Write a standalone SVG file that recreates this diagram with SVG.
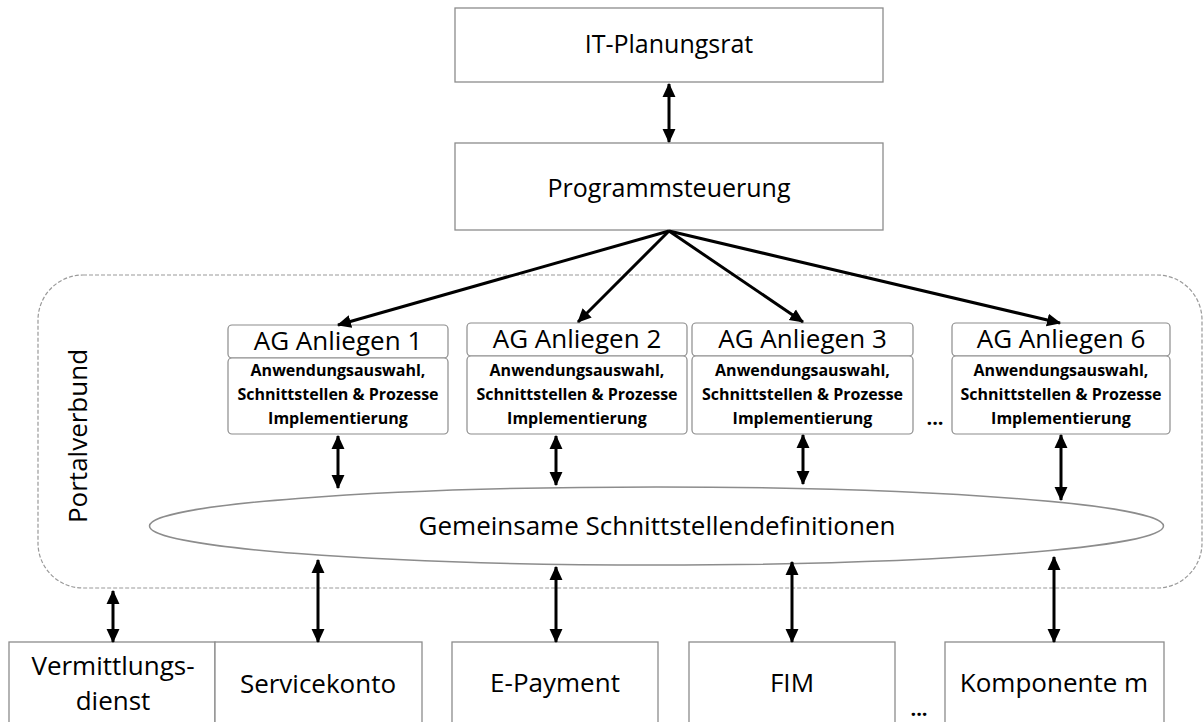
<svg xmlns="http://www.w3.org/2000/svg" width="1204" height="722" viewBox="0 0 1204 722">
<style>
.box{fill:#fff;stroke:#8c8c8c;stroke-width:1.3}
.agbox{fill:#fff;stroke:#8c8c8c;stroke-width:1.2}
.t{font-family:"Open Sans","Liberation Sans",sans-serif;font-size:25px;fill:#000;text-anchor:middle}
.t26{font-family:"Open Sans","Liberation Sans",sans-serif;font-size:26px;fill:#000;text-anchor:middle}
.b{font-family:"Open Sans","Liberation Sans",sans-serif;font-size:16px;font-weight:bold;fill:#000;text-anchor:middle}
.arr{stroke:#000;stroke-width:3;fill:none;marker-end:url(#ah);marker-start:url(#ah)}
.one{stroke:#000;stroke-width:3;fill:none;marker-end:url(#ah)}
</style>
<defs>
<marker id="ah" markerUnits="userSpaceOnUse" markerWidth="14" markerHeight="14" refX="12" refY="6" orient="auto-start-reverse" viewBox="0 0 13 12">
<path d="M0,0 L13,6 L0,12 z" fill="#000"/>
</marker>
</defs>
<rect width="1204" height="722" fill="#fff"/>

<g id="portalverbund">
<rect x="38" y="275" width="1164" height="313" rx="45" ry="45" fill="none" stroke="#999" stroke-width="1.2" stroke-dasharray="4,2"/>
<text class="t26" x="87" y="436" transform="rotate(-90 87 436)">Portalverbund</text>
</g>

<g id="it-planungsrat">
<rect class="box" x="455" y="8" width="428" height="74"/>
<text class="t" x="669" y="53">IT-Planungsrat</text>
</g>

<g id="programmsteuerung">
<rect class="box" x="455" y="143" width="428" height="87"/>
<text class="t" x="669" y="197">Programmsteuerung</text>
</g>

<g id="ag1">
<rect class="agbox" x="228" y="325" width="220" height="33" rx="4"/>
<rect class="agbox" x="228" y="358" width="220" height="76" rx="4"/>
<text class="t26" x="338" y="350">AG Anliegen 1</text>
<text class="b" x="338" y="376">Anwendungsauswahl,</text>
<text class="b" x="338" y="400">Schnittstellen &amp; Prozesse</text>
<text class="b" x="338" y="424">Implementierung</text>
</g>

<g id="ag2">
<rect class="agbox" x="467" y="323" width="220" height="33" rx="4"/>
<rect class="agbox" x="467" y="356" width="220" height="78" rx="4"/>
<text class="t26" x="577" y="348">AG Anliegen 2</text>
<text class="b" x="577" y="376">Anwendungsauswahl,</text>
<text class="b" x="577" y="400">Schnittstellen &amp; Prozesse</text>
<text class="b" x="577" y="424">Implementierung</text>
</g>

<g id="ag3">
<rect class="agbox" x="692" y="323" width="221" height="33" rx="4"/>
<rect class="agbox" x="692" y="356" width="221" height="78" rx="4"/>
<text class="t26" x="802.5" y="348">AG Anliegen 3</text>
<text class="b" x="802.5" y="376">Anwendungsauswahl,</text>
<text class="b" x="802.5" y="400">Schnittstellen &amp; Prozesse</text>
<text class="b" x="802.5" y="424">Implementierung</text>
</g>

<g id="dots-ag">
<text class="t26" x="935" y="425" style="font-size:20px;font-weight:bold">...</text>
</g>

<g id="ag6">
<rect class="agbox" x="952" y="323" width="218" height="33" rx="4"/>
<rect class="agbox" x="952" y="356" width="218" height="78" rx="4"/>
<text class="t26" x="1061" y="348">AG Anliegen 6</text>
<text class="b" x="1061" y="376">Anwendungsauswahl,</text>
<text class="b" x="1061" y="400">Schnittstellen &amp; Prozesse</text>
<text class="b" x="1061" y="424">Implementierung</text>
</g>

<g id="schnittstellen">
<ellipse cx="656.5" cy="526" rx="507" ry="39" fill="#fff" stroke="#8c8c8c" stroke-width="1.5"/>
<text class="t26" x="657" y="535">Gemeinsame Schnittstellendefinitionen</text>
</g>

<g id="vermittlungsdienst">
<rect class="box" x="9" y="642" width="206" height="100"/>
<text class="t26" x="113" y="675">Vermittlungs-</text>
<text class="t26" x="113" y="710">dienst</text>
</g>

<g id="servicekonto">
<rect class="box" x="215" y="642" width="207" height="100"/>
<text class="t26" x="318" y="693">Servicekonto</text>
</g>

<g id="e-payment">
<rect class="box" x="452" y="642" width="206" height="100"/>
<text class="t26" x="555" y="692">E-Payment</text>
</g>

<g id="fim">
<rect class="box" x="689" y="642" width="206" height="100"/>
<text class="t26" x="792" y="692">FIM</text>
</g>

<g id="dots-bottom">
<text class="t26" x="919" y="716" style="font-size:20px;font-weight:bold">...</text>
</g>

<g id="komponente-m">
<rect class="box" x="945" y="642" width="219" height="100"/>
<text class="t26" x="1054" y="692">Komponente m</text>
</g>

<g id="connectors">
<line class="arr" x1="669" y1="84" x2="669" y2="142"/>
<line class="one" x1="669" y1="231" x2="338" y2="325"/>
<line class="one" x1="669" y1="231" x2="578" y2="322"/>
<line class="one" x1="669" y1="231" x2="803" y2="322"/>
<line class="one" x1="669" y1="231" x2="1060" y2="323"/>
<line class="arr" x1="338" y1="436" x2="338" y2="488"/>
<line class="arr" x1="556" y1="436" x2="556" y2="485"/>
<line class="arr" x1="803" y1="435" x2="803" y2="484"/>
<line class="arr" x1="1061" y1="435" x2="1061" y2="500"/>
<line class="arr" x1="113" y1="591" x2="113" y2="642"/>
<line class="arr" x1="318" y1="560" x2="318" y2="642"/>
<line class="arr" x1="556" y1="567" x2="556" y2="642"/>
<line class="arr" x1="792" y1="562" x2="792" y2="642"/>
<line class="arr" x1="1054" y1="557" x2="1054" y2="642"/>
</g>
</svg>
